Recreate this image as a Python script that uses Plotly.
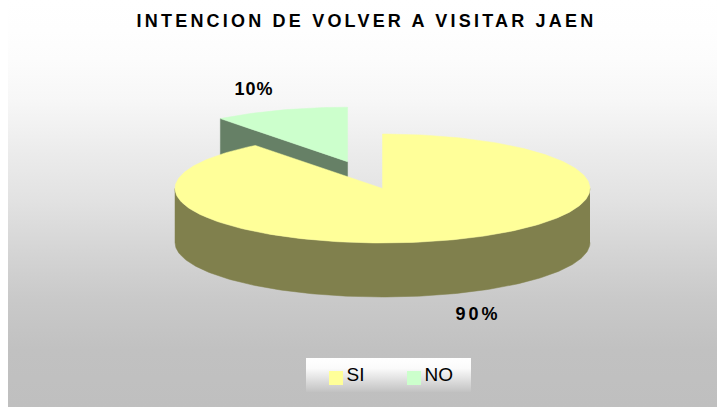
import math
import plotly.graph_objects as go

categories = ["SI", "NO"]
values = [89.5, 10.5]
value_labels = ["90%", "10%"]
title_text = "INTENCION DE VOLVER A VISITAR JAEN"

W, H = 717, 407
CX, CY, RX, RY, DEPTH = 382.5, 188.5, 207.5, 54.5, 54
EXPLODE = 0.52
TOP = {"SI": "#FFFF99", "NO": "#CCFFCC"}
WALL = {"SI": "#80804D", "NO": "#668066"}
FONT = "Liberation Sans, Arial, sans-serif"
BG_STOPS = [(0, "#FFFFFF"), (30, "#FEFEFE"), (60, "#FCFCFC"), (100, "#F7F7F7"), (150, "#ECECEC"),
            (200, "#E2E2E2"), (250, "#D5D5D5"), (300, "#C9C9C9"), (350, "#C1C1C1"), (407, "#BFBFBF")]


def pt(cx, cy, deg):
    t = math.radians(deg)
    return cx + RX * math.sin(t), cy - RY * math.cos(t)


def arc(cx, cy, a0, a1, n=180):
    p = [pt(cx, cy, a0 + (a1 - a0) * i / n) for i in range(n + 1)]
    return [q[0] for q in p], [q[1] for q in p]


total = sum(values)
si_end = values[0] / total * 360
no_mid = si_end + values[1] / total * 180
ex = EXPLODE * RX * math.sin(math.radians(no_mid))
ey = -EXPLODE * RY * math.cos(math.radians(no_mid))
ncx, ncy = CX + ex, CY + ey

fig = go.Figure()
# chart background
fig.add_trace(go.Scatter(
    x=[8, W, W, 8, 8], y=[0, 0, H, H, 0], mode="lines", line_width=0,
    fill="toself", hoverinfo="skip", showlegend=False,
    fillgradient=dict(type="vertical", start=0, stop=H,
                      colorscale=[[s / H, c] for s, c in BG_STOPS]),
))


def poly(xs, ys, color, name):
    fig.add_trace(go.Scatter(x=xs, y=ys, mode="lines", fill="toself", fillcolor=color,
                             line=dict(width=0.5, color=color), name=name,
                             hoverinfo="name", showlegend=False))


# NO slice
ax0, ay0 = pt(ncx, ncy, si_end)
poly([ax0, ncx, ncx, ax0, ax0], [ay0, ncy, ncy + DEPTH, ay0 + DEPTH, ay0], WALL["NO"], "NO")
xs, ys = arc(ncx, ncy, si_end, 360, 40)
poly([ncx] + xs + [ncx], [ncy] + ys + [ncy], TOP["NO"], "NO")

# SI slice
xs, ys = arc(CX, CY, 90, 270)
poly(xs + xs[::-1], ys + [y + DEPTH for y in ys[::-1]], WALL["SI"], "SI")
xs, ys = arc(CX, CY, 0, si_end, 300)
poly([CX] + xs + [CX], [CY] + ys + [CY], TOP["SI"], "SI")

# legend box
LX0, LX1, LY0, LY1 = 306, 471, 358, 392
fig.add_trace(go.Scatter(
    x=[LX0, LX1, LX1, LX0, LX0], y=[LY0, LY0, LY1, LY1, LY0], mode="lines", line_width=0,
    fill="toself", hoverinfo="skip", showlegend=False,
    fillgradient=dict(type="vertical", start=LY0, stop=LY1,
                      colorscale=[[0, "#FFFFFF"], [0.3, "#FBFBFB"], [1, "#C2C2C2"]]),
))
fig.add_trace(go.Scatter(
    x=[336, 414], y=[378, 378], mode="markers",
    marker=dict(symbol="square", size=14, color=[TOP[c] for c in categories], line_width=0),
    hoverinfo="skip", showlegend=False,
))
fig.add_trace(go.Scatter(
    x=[346.5, 424.5], y=[376, 376], mode="text", text=categories,
    textposition="middle right", textfont=dict(family=FONT, size=19, color="#000000"),
    hoverinfo="skip", showlegend=False,
))

fig.update_layout(
    width=W, height=H, margin=dict(l=0, r=0, t=0, b=0),
    paper_bgcolor="#FFFFFF", plot_bgcolor="rgba(0,0,0,0)", showlegend=False,
    xaxis=dict(range=[0, W], visible=False, fixedrange=True),
    yaxis=dict(range=[H, 0], visible=False, fixedrange=True),
    title=dict(text=title_text, x=366.5 / W, xanchor="center", y=1 - 20.5 / H, yanchor="middle",
               font=dict(family=FONT, size=18, color="#000000", weight="bold")),
    annotations=[
        dict(x=254, y=89, text=value_labels[1], showarrow=False, xref="x", yref="y",
             font=dict(family=FONT, size=18, color="#000000", weight="bold")),
        dict(x=478, y=314, text=value_labels[0], showarrow=False, xref="x", yref="y",
             font=dict(family=FONT, size=18, color="#000000", weight="bold")),
    ],
)

fig.write_html("out.html", config={"displayModeBar": False}, post_script="""
document.querySelectorAll('.gtitle').forEach(function(t){t.style.letterSpacing='3.2px';});
document.querySelectorAll('.annotation-text').forEach(function(t){
  t.style.letterSpacing = t.textContent === '90%' ? '3px' : '1px';
});
document.body.style.margin='0';
""")
